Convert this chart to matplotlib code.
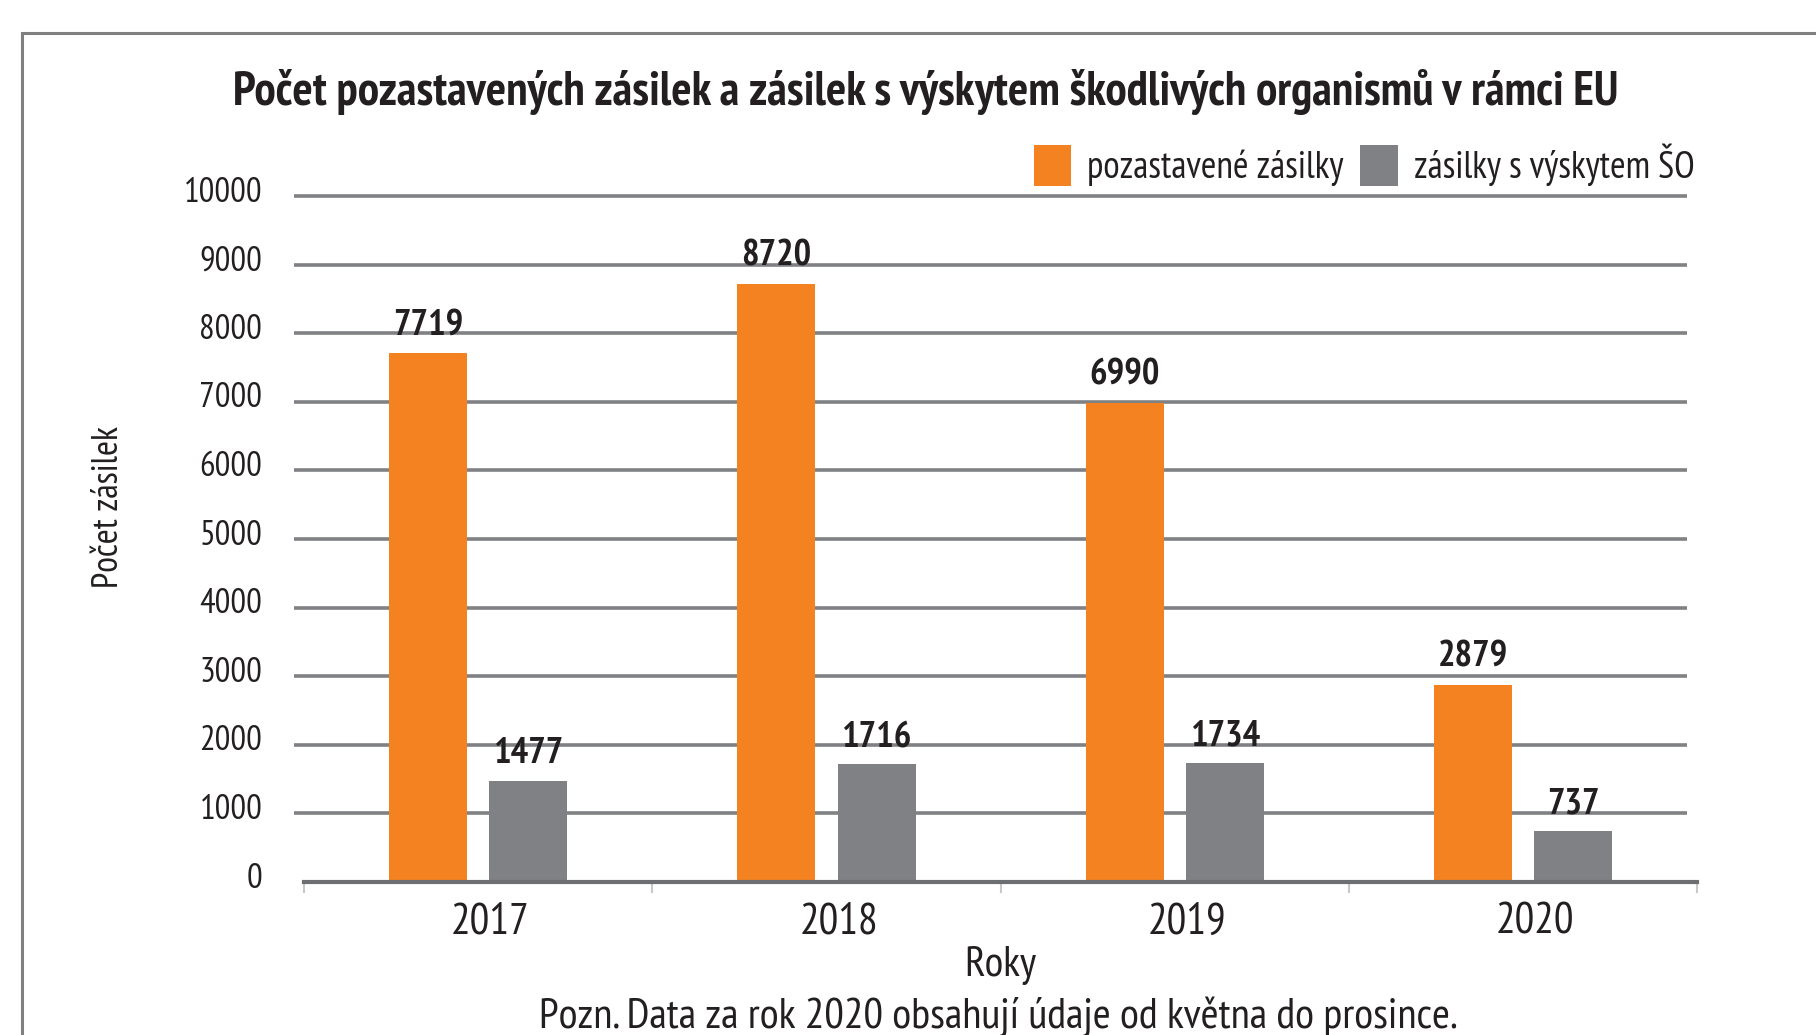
import matplotlib
matplotlib.use("Agg")
import matplotlib.pyplot as plt
import matplotlib.transforms as mtransforms
from matplotlib.patches import Rectangle
import numpy as np

plt.rcParams['font.family'] = ['PT Sans Narrow', 'Fira Sans Condensed',
                               'IBM Plex Sans Condensed', 'DejaVu Sans']

roky = ["2017", "2018", "2019", "2020"]
pozastavene = [7719, 8720, 6990, 2879]
s_vyskytem_so = [1477, 1716, 1734, 737]
y_ticks = [0, 1000, 2000, 3000, 4000, 5000, 6000, 7000, 8000, 9000, 10000]

orange = "#f58220"
gray = "#808184"
txt = "#231f20"

fig = plt.figure(figsize=(18.16, 10.35), dpi=100)
ax = fig.add_axes([0.1674, 0.1478, 0.7671, 0.6628])

# ramecek kolem grafu (vpravo a dole oriznuty)
fig.patches.append(Rectangle((0.012, -0.1), 1.2, 1.068, transform=fig.transFigure,
                             fill=False, edgecolor="#808080", linewidth=2.2))

x = np.arange(len(roky))
w = 0.224
ax.bar(x - 0.144, pozastavene, w, color=orange, label="pozastavené zásilky", zorder=3)
ax.bar(x + 0.144, s_vyskytem_so, w, color=gray, label="zásilky s výskytem ŠO", zorder=3)

for xi, v in zip(x - 0.144, pozastavene):
    ax.text(xi, v + 160, str(v), ha="center", va="bottom", fontsize=26.5,
            fontweight="bold", color=txt)
for xi, v in zip(x + 0.144, s_vyskytem_so):
    ax.text(xi, v + 160, str(v), ha="center", va="bottom", fontsize=26.5,
            fontweight="bold", color=txt)

ax.set_xlim(-0.5, len(roky) - 0.5)
ax.set_ylim(0, 10000)

# mrizka
ax.hlines(y_ticks[1:], -0.007, 1 - 0.007, transform=ax.get_yaxis_transform(),
          colors=gray, linewidth=2.6, zorder=1, clip_on=False)

for s in ["top", "right", "left"]:
    ax.spines[s].set_visible(False)
ax.spines["bottom"].set_color("#6d6e71")
ax.spines["bottom"].set_linewidth(3)
ax.spines["bottom"].set_zorder(4)

ax.set_yticks(y_ticks)
ax.set_yticklabels([str(t) for t in y_ticks])
ax.tick_params(axis="y", length=0, pad=30, labelsize=25, labelcolor=txt)
posun = mtransforms.ScaledTranslation(0, 5 / 72, fig.dpi_scale_trans)
for lab in ax.get_yticklabels():
    lab.set_transform(lab.get_transform() + posun)

ax.set_xticks(x + 0.035)
ax.set_xticklabels(roky)
ax.tick_params(axis="x", which="major", length=0, pad=15, labelsize=31.5, labelcolor=txt)
ax.set_xticks(np.arange(-0.5, len(roky)), minor=True)
ax.tick_params(axis="x", which="minor", length=8, width=1.5, color="#c8c8c8")

ax.set_xlabel("Roky", fontsize=31, color=txt, labelpad=2)
ax.set_ylabel("Počet zásilek", fontsize=26, color=txt, labelpad=42, y=0.546)

fig.text(0.51, 0.911, "Počet pozastavených zásilek a zásilek s výskytem škodlivých organismů v rámci EU",
         ha="center", va="center", fontsize=34.3, fontweight="bold", color=txt)
fig.text(0.5497, 0.017, "Pozn. Data za rok 2020 obsahují údaje od května do prosince.",
         ha="center", va="center", fontsize=31.3, color=txt)

ax.legend(loc="lower right", bbox_to_anchor=(1.0115, 0.987), ncol=2, frameon=False,
          fontsize=27, handlelength=1.0, handleheight=1.3, handletextpad=0.42,
          columnspacing=0.45, borderaxespad=0.1, labelcolor=txt)

fig.savefig("out.png", dpi=100)
